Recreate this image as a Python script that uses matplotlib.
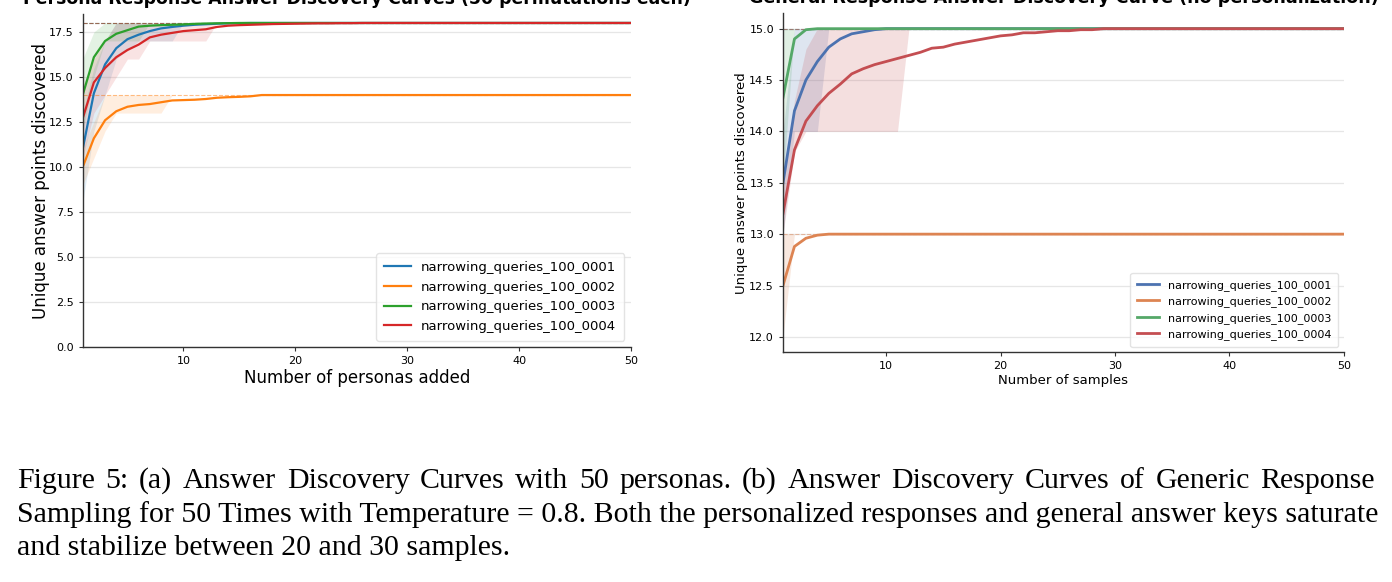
import numpy as np
import matplotlib.pyplot as plt

# === Data ===
x = np.arange(1, 51)
names = ["narrowing_queries_100_0001", "narrowing_queries_100_0002",
         "narrowing_queries_100_0003", "narrowing_queries_100_0004"]

# (a) persona curves: mean and interquartile band
a_0001 = [11.0, 14.1, 15.7, 16.6, 17.1, 17.35, 17.55, 17.7, 17.78, 17.85, 17.9, 17.93, 17.96, 17.98, 17.99] + [18.0] * 35
a_0002 = [10.0, 11.6, 12.6, 13.1, 13.35, 13.45, 13.5, 13.6, 13.7, 13.72, 13.74, 13.78, 13.85, 13.88, 13.9, 13.93] + [14.0] * 34
a_0003 = [14.0, 16.1, 17.0, 17.4, 17.6, 17.8, 17.85, 17.88, 17.9, 17.92, 17.95, 17.97, 17.98, 17.99] + [18.0] * 36
a_0004 = [12.7, 14.7, 15.5, 16.1, 16.5, 16.8, 17.2, 17.35, 17.45, 17.55, 17.6, 17.65, 17.78, 17.85, 17.88,
          17.9, 17.92, 17.94, 17.95, 17.96, 17.97, 17.98, 17.98, 17.99, 17.99] + [18.0] * 25

a_0001_lo = [8.0, 12.0, 14.0, 16.0, 16.5, 17.0, 17.0, 17.0, 17.0] + [18.0] * 41
a_0001_hi = [13.0, 15.5, 17.0] + [18.0] * 47
a_0002_lo = [9.0, 10.5, 12.0, 13.0, 13.0, 13.0, 13.0, 13.0] + [14.0] * 42
a_0002_hi = [11.0, 12.5] + [14.0] * 48
a_0003_lo = [12.0, 15.0, 17.0, 17.0, 17.0, 17.0] + [18.0] * 44
a_0003_hi = [16.0, 17.5] + [18.0] * 48
a_0004_lo = [10.5, 13.0, 14.0, 15.0, 16.0, 16.0, 17.0, 17.0, 17.0, 17.0, 17.0, 17.0] + [18.0] * 38
a_0004_hi = [14.5, 16.0, 17.0] + [18.0] * 47

# (b) general response curves
b_0001 = [13.5, 14.2, 14.5, 14.68, 14.82, 14.9, 14.95, 14.97, 14.99] + [15.0] * 41
b_0002 = [12.5, 12.88, 12.96, 12.99] + [13.0] * 46
b_0003 = [14.33, 14.9, 14.99] + [15.0] * 47
b_0004 = [13.2, 13.82, 14.1, 14.25, 14.37, 14.46, 14.56, 14.61, 14.65, 14.68, 14.71, 14.74, 14.77, 14.81,
          14.82, 14.85, 14.87, 14.89, 14.91, 14.93, 14.94, 14.96, 14.96, 14.97, 14.98, 14.98, 14.99, 14.99] + [15.0] * 22

b_0001_lo = [13.0, 14.0, 14.0, 14.0] + [15.0] * 46
b_0001_hi = [14.0] + [15.0] * 49
b_0002_lo = [12.0] + [13.0] * 49
b_0002_hi = [13.0] * 50
b_0003_lo = [13.5] + [15.0] * 49
b_0003_hi = [15.0] * 50
b_0004_lo = [13.0, 13.8] + [14.0] * 9 + [15.0] * 39
b_0004_hi = [13.5, 14.3, 14.8] + [15.0] * 47

caption = [
    "Figure 5: (a) Answer Discovery Curves with 50 personas. (b) Answer Discovery Curves of Generic Response",
    "Sampling for 50 Times with Temperature = 0.8. Both the personalized responses and general answer keys saturate",
    "and stabilize between 20 and 30 samples.",
]

left_colors = ["#1f77b4", "#ff7f0e", "#2ca02c", "#d62728"]
right_colors = ["#4c72b0", "#dd8452", "#55a868", "#c44e52"]

plt.rcParams["font.family"] = "DejaVu Sans"
W, H = 1392, 582
fig = plt.figure(figsize=(W / 100, H / 100), dpi=100)

ax1 = fig.add_axes([0.0594, 0.4033, 0.3939, 0.5727])
ax2 = fig.add_axes([0.5625, 0.3947, 0.4030, 0.5825])


def style(ax):
    for s in ["top", "right"]:
        ax.spines[s].set_visible(False)
    for s in ["left", "bottom"]:
        ax.spines[s].set_color("#333333")
        ax.spines[s].set_linewidth(1.0)
    ax.grid(axis="y", color="#e6e6e6", linewidth=0.9)
    ax.set_axisbelow(True)
    ax.tick_params(labelsize=8, length=3, color="#333333")


# === (a) ===
means = [a_0001, a_0002, a_0003, a_0004]
los = [a_0001_lo, a_0002_lo, a_0003_lo, a_0004_lo]
his = [a_0001_hi, a_0002_hi, a_0003_hi, a_0004_hi]
for name, m, lo, hi, c in zip(names, means, los, his, left_colors):
    ax1.fill_between(x, lo, hi, color=c, alpha=0.13, linewidth=0)
    ax1.plot(x, m, color=c, linewidth=1.6, label=name)
    ax1.axhline(max(m), color=c, linestyle="--", linewidth=0.8, alpha=0.5, zorder=1)
style(ax1)
ax1.set_xlim(1, 50)
ax1.set_ylim(0, 18.5)
ax1.set_xlabel("Number of personas added", fontsize=12, labelpad=2)
ax1.set_ylabel("Unique answer points discovered", fontsize=12, labelpad=-1)
ax1.set_title("Persona Response Answer Discovery Curves (50 permutations each)",
              fontsize=12.4, fontweight="bold", pad=7.5)
ax1.legend(loc="lower right", fontsize=9.5, handlelength=2.0, borderpad=0.6,
           framealpha=0.8, edgecolor="#dddddd")

# === (b) ===
means = [b_0001, b_0002, b_0003, b_0004]
los = [b_0001_lo, b_0002_lo, b_0003_lo, b_0004_lo]
his = [b_0001_hi, b_0002_hi, b_0003_hi, b_0004_hi]
for name, m, lo, hi, c in zip(names, means, los, his, right_colors):
    ax2.fill_between(x, lo, hi, color=c, alpha=0.18, linewidth=0)
    ax2.plot(x, m, color=c, linewidth=2.0, label=name)
    ax2.axhline(max(m), color=c, linestyle="--", linewidth=0.8, alpha=0.5, zorder=1)
style(ax2)
ax2.set_xlim(1, 50)
ax2.set_ylim(11.85, 15.15)
ax2.set_xlabel("Number of samples", fontsize=9.5, labelpad=2)
ax2.set_ylabel("Unique answer points discovered", fontsize=9.5, labelpad=1)
ax2.set_title("General Response Answer Discovery Curve (no personalization)",
              fontsize=12.6, fontweight="bold", pad=7.5)
ax2.legend(loc="lower right", fontsize=8, handlelength=2.0, borderpad=0.6,
           framealpha=0.8, edgecolor="#dddddd")

# === Caption (first line justified, the others set as is) ===
fig.canvas.draw()
renderer = fig.canvas.get_renderer()
x0, x1 = 17, 1375
cap_kw = dict(fontsize=21.5, family="Liberation Serif", va="baseline", ha="left")
for i, (line, yb) in enumerate(zip(caption, [488, 522, 555])):
    if i == 0:
        words = line.split(" ")
        texts = [fig.text(0, 1 - yb / H, w, **cap_kw) for w in words]
        widths = [t.get_window_extent(renderer).width for t in texts]
        gap = (x1 - x0 - sum(widths)) / (len(words) - 1)
        pos = x0
        for t, w in zip(texts, widths):
            t.set_x(pos / W)
            pos += w + gap
    else:
        fig.text(x0 / W, 1 - yb / H, line, **cap_kw)

fig.savefig("out.png", dpi=100)
